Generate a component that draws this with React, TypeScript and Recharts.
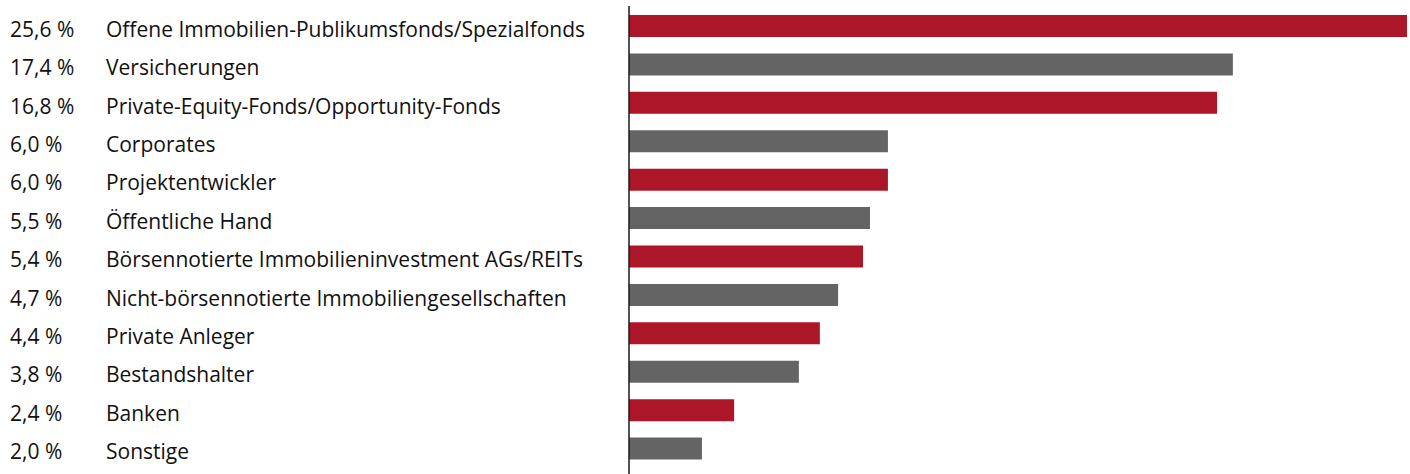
import React from 'react';
import { BarChart, Bar, XAxis, YAxis, Cell } from 'recharts';

// Investor groups (top to bottom)
const categories: string[] = [
  'Offene Immobilien-Publikumsfonds/Spezialfonds',
  'Versicherungen',
  'Private-Equity-Fonds/Opportunity-Fonds',
  'Corporates',
  'Projektentwickler',
  'Öffentliche Hand',
  'Börsennotierte Immobilieninvestment AGs/REITs',
  'Nicht-börsennotierte Immobiliengesellschaften',
  'Private Anleger',
  'Bestandshalter',
  'Banken',
  'Sonstige',
];

// Reported shares (printed labels)
const shares: number[] = [25.6, 17.4, 16.8, 6.0, 6.0, 5.5, 5.4, 4.7, 4.4, 3.8, 2.4, 2.0];
const shareLabels: string[] = shares.map((s) => `${s.toFixed(1).replace('.', ',')} %`);

// Bar lengths as drawn in the picture (in share units, largest bar = 25.6)
const barLengths: number[] = [25.6, 19.87, 19.35, 8.52, 8.52, 7.93, 7.7, 6.88, 6.28, 5.59, 3.46, 2.4];

const barColors: string[] = ['#AB1628', '#646464'];

const data = categories.map((name, i) => ({
  name,
  share: shares[i],
  label: shareLabels[i],
  length: barLengths[i],
}));

const FONT = '"Open Sans", sans-serif';

const RowTick = (props: any) => {
  const { y, payload, index } = props;
  return (
    <g>
      <text x={10} y={y} dy={10.5} fontFamily={FONT} fontSize={21} fill="#111111" textAnchor="start">
        {shareLabels[index]}
      </text>
      <text x={106} y={y} dy={10.5} fontFamily={FONT} fontSize={21} fill="#111111" textAnchor="start">
        {payload.value}
      </text>
    </g>
  );
};

export default function App() {
  return (
    <div style={{ width: 1410, height: 474 }}>
      <style>{'body{margin:0;background:#fff}'}</style>
      <BarChart
        width={1410}
        height={474}
        data={data}
        layout="vertical"
        margin={{ top: 6, right: 3, bottom: 0, left: 0 }}
      >
        <XAxis type="number" domain={[0, 25.6]} hide />
        <YAxis
          type="category"
          dataKey="name"
          width={629}
          axisLine={{ stroke: '#1a1a1a', strokeWidth: 1.5 }}
          tickLine={false}
          tick={<RowTick />}
          interval={0}
          padding={{ top: 1, bottom: 6 }}
        />
        <Bar dataKey="length" barSize={22} isAnimationActive={false}>
          {data.map((d, i) => (
            <Cell key={d.name} fill={barColors[i % 2]} />
          ))}
        </Bar>
      </BarChart>
    </div>
  );
}
